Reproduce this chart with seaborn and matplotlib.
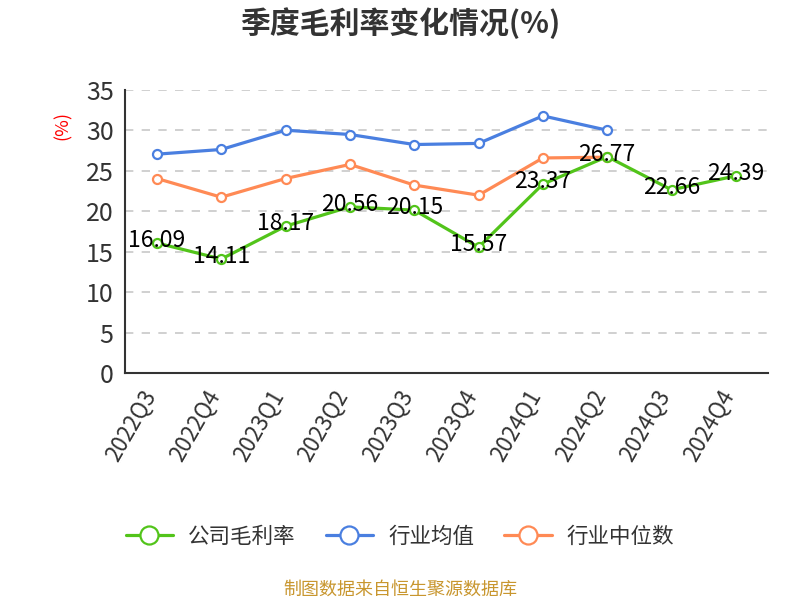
import numpy as np
import pandas as pd
import seaborn as sns
import matplotlib.pyplot as plt
import matplotlib.transforms as mtransforms
from matplotlib.ticker import FixedLocator

sns.set_style("white")
plt.rcParams['font.family'] = ['Noto Sans CJK SC', 'DejaVu Sans']

# 数据
quarters = ["2022Q3", "2022Q4", "2023Q1", "2023Q2", "2023Q3",
            "2023Q4", "2024Q1", "2024Q2", "2024Q3", "2024Q4"]
company = [16.09, 14.11, 18.17, 20.56, 20.15, 15.57, 23.37, 26.77, 22.66, 24.39]
industry_mean = [27.07, 27.65, 30.03, 29.5, 28.26, 28.4, 31.8, 30.03]
industry_median = [24.06, 21.75, 24.06, 25.8, 23.25, 22.0, 26.6, 26.7]

series = [
    ("公司毛利率", company, "#52C41A"),
    ("行业均值", industry_mean, "#4A7FE0"),
    ("行业中位数", industry_median, "#FF8A55"),
]

fig = plt.figure(figsize=(8, 6), dpi=100)
ax = fig.add_axes([0.156, 0.378, 0.804, 0.472])

# 先画行业线，再画公司线（在最上层）
for name, vals, color in series[::-1]:
    df = pd.DataFrame({"x": np.arange(len(vals)), "y": vals})
    sns.lineplot(data=df, x="x", y="y", ax=ax, color=color, linewidth=2.3,
                 marker="o", markersize=6.5, markerfacecolor="white",
                 markeredgecolor=color, markeredgewidth=1.6, label=name)

for i, v in enumerate(company):
    ax.text(i, v + 0.3, f"{v:.2f}", ha="center", va="center",
            fontsize=16.5, color="black", zorder=10)

ax.set_xlim(-0.5, len(quarters) - 0.5)
ax.set_ylim(0, 35)
ax.set_yticks(range(0, 36, 5))
ax.tick_params(axis="y", labelsize=18, colors="#333333", length=6, width=1.5,
               labelcolor="#333333", pad=2)
ax.set_xticks(range(len(quarters)))
ax.set_xticklabels(quarters, rotation=60, ha="right", va="center",
                   rotation_mode="anchor", fontsize=16, color="#333333")
ax.tick_params(axis="x", which="major", length=0, pad=13)
offset = mtransforms.ScaledTranslation(-7 / 100, 0, fig.dpi_scale_trans)
for lbl in ax.get_xticklabels():
    lbl.set_transform(lbl.get_transform() + offset)
ax.xaxis.set_minor_locator(FixedLocator(np.arange(-0.5, len(quarters), 1.0)))
ax.tick_params(axis="x", which="minor", length=6, width=1.5, color="#333333")

ax.grid(axis="y", linestyle=(0, (5, 5)), color="#C8C8C8", linewidth=1.2)
ax.set_axisbelow(True)
for s in ["top", "right"]:
    ax.spines[s].set_visible(False)
for s in ["left", "bottom"]:
    ax.spines[s].set_color("#333333")
    ax.spines[s].set_linewidth(1.5)

ax.set_xlabel("")
ax.set_ylabel("")
fig.text(0.078, 0.79, "(%)", color="red", fontsize=13, rotation=90,
         ha="center", va="center")

# 图例
handles, labels = ax.get_legend_handles_labels()
order = [labels.index(n) for n, _, _ in series]
ax.legend([handles[i] for i in order], [labels[i] for i in order],
          loc="center", bbox_to_anchor=(0.5, 0.105), bbox_transform=fig.transFigure,
          ncol=3, frameon=False, fontsize=15.5, markerscale=2.0,
          handlelength=2.2, columnspacing=1.4, handletextpad=0.7, labelcolor="#333333")

fig.text(0.5, 0.962, "季度毛利率变化情况(%)", ha="center", va="center",
         fontsize=21.5, fontweight="bold", color="#333333")
fig.text(0.5, 0.018, "制图数据来自恒生聚源数据库", ha="center", va="center",
         fontsize=13, color="#C8962E")

fig.savefig("out.png", dpi=100)
